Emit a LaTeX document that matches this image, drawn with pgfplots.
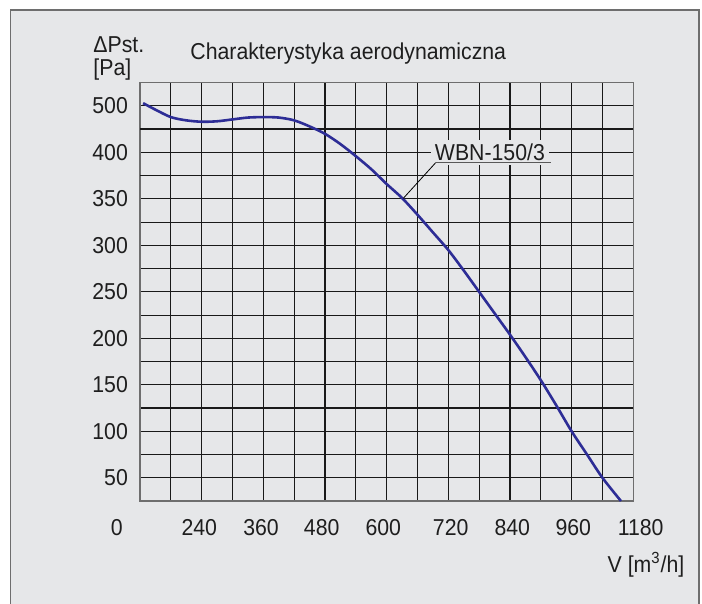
\documentclass[border=0pt]{standalone}
\usepackage{pgfplots}
\pgfplotsset{compat=1.18}
\usepackage{fontspec}
\setmainfont{Liberation Sans}[FakeStretch=0.925]
\definecolor{bgc}{RGB}{230,231,233}
\definecolor{gridc}{RGB}{25,25,25}
\definecolor{curvec}{RGB}{45,45,150}
\definecolor{framec}{RGB}{110,110,110}
\definecolor{txtc}{RGB}{30,30,30}
\begin{document}
\fontsize{11.5}{13}\selectfont
\begin{tikzpicture}
\useasboundingbox (0pt,0pt) rectangle (351pt,-302pt);
\fill[white] (0pt,0pt) rectangle (351pt,-302pt);
\fill[bgc] (5.35pt,-5pt) rectangle (349.5pt,-305pt);
\draw[framec,line width=0.6pt] (5.35pt,-305pt) -- (5.35pt,-5pt) -- (349.5pt,-5pt) -- (349.5pt,-305pt);
\begin{axis}[
  at={(70pt,-250.5pt)}, anchor=south west,
  scale only axis, width=246.65pt, height=209.15pt,
  xmin=120, xmax=1080, ymin=25, ymax=475,
  xtick={120,180,...,1080}, ytick={25,50,...,475},
  xticklabels={}, yticklabels={},
  major tick length=0pt,
  grid=major,
  major grid style={gridc, line width=0.55pt},
  axis line style={framec, line width=0.7pt},
  clip=false,
]
\draw[gridc, line width=0.75pt] (axis cs:120,425) -- (axis cs:1080,425);
\draw[gridc, line width=0.75pt] (axis cs:120,375) -- (axis cs:1080,375);
\addplot[curvec, line width=1.3pt, smooth, tension=0.5, no marks] coordinates {
(126,453) (150,446) (180,438) (210,434.5) (240,433) (270,433.5) (300,435.5)
(330,437.5) (360,438) (390,437.5) (420,434.5) (450,428) (480,420) (510,409)
(540,396) (570,382) (600,366) (630,351) (660,333) (690,314) (720,295)
(750,273) (780,250) (810,227) (840,204) (870,180) (900,155) (930,128)
(960,100) (990,75) (1020,50) (1056,25)
};
\node[fill=bgc, inner sep=2pt, text=txtc] at (axis cs:801,400) {WBN-150/3};
\draw[black!65, line width=0.6pt] (axis cs:695.5,389) -- (axis cs:919.3,389);
\draw[black, line width=0.4pt] (axis cs:695.5,389) -- (axis cs:632.4,350.6);
\node[anchor=east, inner sep=0pt, text=txtc] at (axis cs:97.2,450) {500};
\node[anchor=east, inner sep=0pt, text=txtc] at (axis cs:97.2,400) {400};
\node[anchor=east, inner sep=0pt, text=txtc] at (axis cs:97.2,350) {350};
\node[anchor=east, inner sep=0pt, text=txtc] at (axis cs:97.2,300) {300};
\node[anchor=east, inner sep=0pt, text=txtc] at (axis cs:97.2,250) {250};
\node[anchor=east, inner sep=0pt, text=txtc] at (axis cs:97.2,200) {200};
\node[anchor=east, inner sep=0pt, text=txtc] at (axis cs:97.2,150) {150};
\node[anchor=east, inner sep=0pt, text=txtc] at (axis cs:97.2,100) {100};
\node[anchor=east, inner sep=0pt, text=txtc] at (axis cs:97.2,50) {50};
\end{axis}
\node[inner sep=0pt, text=txtc] at (58.35pt,-264pt) {0};
\node[inner sep=0pt, text=txtc] at (99.65pt,-264pt) {240};
\node[inner sep=0pt, text=txtc] at (130.5pt,-264pt) {360};
\node[inner sep=0pt, text=txtc] at (160.85pt,-264pt) {480};
\node[inner sep=0pt, text=txtc] at (191.65pt,-264pt) {600};
\node[inner sep=0pt, text=txtc] at (225.35pt,-264pt) {720};
\node[inner sep=0pt, text=txtc] at (256.15pt,-264pt) {840};
\node[inner sep=0pt, text=txtc] at (286.65pt,-264pt) {960};
\node[inner sep=0pt, text=txtc] at (320.35pt,-264pt) {1180};
\node[inner sep=0pt, text=txtc] at (323pt,-282.5pt) {V [m\textsuperscript{3}/h]};
\node[anchor=west, inner sep=0pt, text=txtc] at (95pt,-26.7pt) {Charakterystyka aerodynamiczna};
\node[anchor=west, inner sep=0pt, text=txtc] at (46.5pt,-22.5pt) {ΔPst.};
\node[anchor=west, inner sep=0pt, text=txtc] at (46.5pt,-34.7pt) {[Pa]};
\end{tikzpicture}
\end{document}
